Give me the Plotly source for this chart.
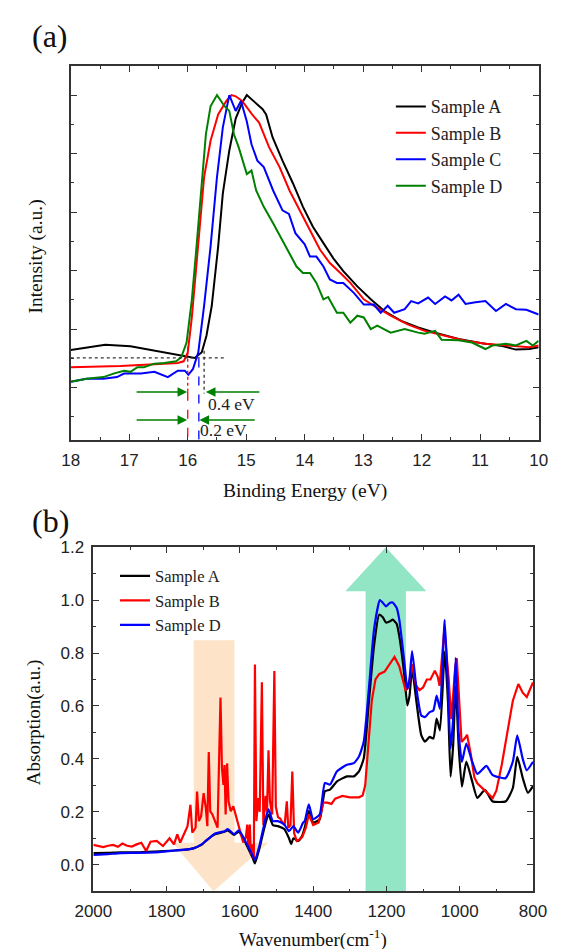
import plotly.graph_objects as go

# ---------------- Panel (a): UPS spectra ----------------
ups_A_x = [18.0, 17.41, 16.98, 16.46, 16.0, 15.88, 15.76, 15.68, 15.59, 15.48, 15.40, 15.29, 15.18, 15.07, 14.99,
           14.84, 14.72, 14.66, 14.55, 14.38, 14.20, 14.03, 13.86, 13.68, 13.51, 13.34, 13.10, 12.87, 12.64, 12.35,
           12.06, 11.77, 11.37, 10.97, 10.62, 10.39, 10.16, 10.0]
ups_A_y = [1.644, 1.734, 1.706, 1.616, 1.531, 1.508, 1.605, 1.887, 2.395, 3.41, 4.32, 5.05, 5.60, 5.87, 6.0,
           5.87, 5.76, 5.67, 5.28, 4.88, 4.49, 4.09, 3.75, 3.47, 3.21, 2.99, 2.73, 2.51, 2.31, 2.14,
           2.03, 1.94, 1.83, 1.76, 1.71, 1.65, 1.66, 1.69]

ups_B_x = [18.0, 17.15, 16.57, 16.17, 16.07, 16.0, 15.93, 15.83, 15.72, 15.61, 15.48, 15.34, 15.25, 15.18, 15.07,
           14.90, 14.78, 14.61, 14.43, 14.26, 14.09, 13.91, 13.74, 13.57, 13.39, 13.22, 12.99, 12.82, 12.53, 12.24,
           11.95, 11.60, 11.25, 10.91, 10.50, 10.16, 10.0]
ups_B_y = [1.35, 1.37, 1.40, 1.42, 1.45, 1.60, 2.20, 3.41, 4.60, 5.22, 5.67, 5.90, 6.0, 5.98, 5.90,
           5.67, 5.53, 5.11, 4.77, 4.37, 4.03, 3.69, 3.36, 3.13, 2.96, 2.79, 2.51, 2.40, 2.23, 2.08,
           1.97, 1.89, 1.80, 1.75, 1.72, 1.69, 1.72]

ups_C_x = [18.0, 17.73, 17.44, 17.21, 17.09, 16.80, 16.57, 16.34, 16.17, 16.05, 15.99, 15.91, 15.82, 15.72, 15.61,
           15.50, 15.40, 15.29, 15.18, 15.09, 14.99, 14.91, 14.81, 14.70, 14.54, 14.38, 14.27, 14.16, 14.0, 13.91,
           13.80, 13.68, 13.57, 13.45, 13.34, 13.16, 12.99, 12.82, 12.70, 12.58, 12.47, 12.29, 12.18, 12.06, 11.89,
           11.77, 11.60, 11.49, 11.37, 11.25, 11.08, 10.91, 10.73, 10.56, 10.39, 10.21, 10.0]
ups_C_y = [1.10, 1.15, 1.15, 1.18, 1.24, 1.24, 1.27, 1.18, 1.29, 1.29, 1.22, 1.32, 1.60, 2.40, 3.41,
           4.60, 5.45, 6.0, 5.73, 5.90, 5.55, 5.16, 4.88, 4.77, 4.37, 4.03, 3.97, 3.64, 3.45, 3.24,
           3.24, 3.07, 2.85, 2.79, 2.79, 2.62, 2.42, 2.42, 2.28, 2.40, 2.28, 2.34, 2.48, 2.44, 2.54,
           2.43, 2.56, 2.49, 2.59, 2.43, 2.46, 2.48, 2.31, 2.43, 2.34, 2.33, 2.25]

ups_D_x = [18.0, 17.73, 17.44, 17.27, 17.09, 16.98, 16.86, 16.75, 16.57, 16.40, 16.20, 16.11, 16.02, 15.93, 15.85,
           15.77, 15.69, 15.61, 15.50, 15.37, 15.29, 15.21, 15.13, 14.99, 14.91, 14.83, 14.70, 14.54, 14.35, 14.26,
           14.14, 14.03, 13.91, 13.80, 13.68, 13.60, 13.45, 13.34, 13.22, 13.10, 12.99, 12.87, 12.76, 12.53, 12.29,
           12.06, 11.95, 11.77, 11.66, 11.37, 11.14, 10.91, 10.79, 10.56, 10.39, 10.21, 10.10, 10.0]
ups_D_y = [1.10, 1.15, 1.18, 1.24, 1.29, 1.27, 1.35, 1.35, 1.41, 1.42, 1.45, 1.52, 1.77, 2.50, 3.41,
           4.43, 5.33, 5.81, 6.0, 5.81, 5.73, 5.33, 5.11, 4.65, 4.71, 4.37, 4.09, 3.81, 3.47, 3.30,
           3.07, 2.96, 2.96, 2.79, 2.51, 2.55, 2.28, 2.28, 2.11, 2.23, 2.20, 2.00, 2.06, 1.94, 2.00,
           1.94, 1.92, 1.97, 1.82, 1.81, 1.77, 1.66, 1.72, 1.75, 1.72, 1.80, 1.72, 1.80]

ups_names = ["Sample A", "Sample B", "Sample C", "Sample D"]
ups_colors = ["#000000", "#FF0000", "#0000FF", "#008000"]

# ---------------- Panel (b): FTIR spectra ----------------
ir_A_x = [2000, 1960, 1926, 1880, 1834, 1778, 1742, 1727, 1705, 1693, 1668, 1659, 1642, 1633, 1616, 1603, 1591,
          1578, 1565, 1559, 1548, 1535, 1522, 1510, 1496, 1479, 1466, 1460, 1454, 1441, 1430, 1423, 1412, 1400,
          1382, 1368, 1354, 1335, 1308, 1289, 1275, 1262, 1248, 1234, 1220, 1210, 1201, 1190, 1183, 1172, 1165,
          1151, 1143, 1137, 1130, 1118, 1105, 1095, 1082, 1072, 1063, 1054, 1041, 1032, 1025, 1018, 1011, 1003,
          994, 982, 966, 952, 931, 911, 874, 855, 843, 828, 814, 800]
ir_A_y = [0.044, 0.045, 0.047, 0.047, 0.050, 0.054, 0.058, 0.062, 0.075, 0.090, 0.115, 0.118, 0.125, 0.130, 0.113,
          0.125, 0.100, 0.063, 0.025, 0.005, 0.055, 0.130, 0.190, 0.150, 0.146, 0.135, 0.100, 0.078, 0.100, 0.090,
          0.110, 0.141, 0.203, 0.160, 0.172, 0.278, 0.284, 0.315, 0.334, 0.334, 0.353, 0.402, 0.614, 0.826, 0.945,
          0.935, 0.915, 0.920, 0.926, 0.910, 0.864, 0.714, 0.602, 0.639, 0.739, 0.614, 0.490, 0.465, 0.483, 0.477,
          0.552, 0.508, 0.805, 0.614, 0.333, 0.450, 0.675, 0.450, 0.295, 0.390, 0.315, 0.253, 0.283, 0.240, 0.240,
          0.290, 0.408, 0.328, 0.272, 0.297]

ir_B_x = [2000, 1985, 1973, 1960, 1946, 1933, 1921, 1908, 1895, 1882, 1869, 1856, 1844, 1827, 1810, 1792, 1780,
          1771, 1763, 1751, 1743, 1735, 1730, 1721, 1717, 1712, 1706, 1699, 1693, 1689, 1685, 1681, 1675, 1668,
          1661, 1653, 1649, 1645, 1642, 1639, 1635, 1631, 1625, 1618, 1612, 1606, 1599, 1591, 1584, 1580, 1577,
          1573, 1570, 1565, 1562, 1559, 1555, 1550, 1546, 1540, 1536, 1530, 1526, 1522, 1518, 1512, 1506, 1502,
          1496, 1490, 1484, 1478, 1472, 1468, 1462, 1457, 1452, 1445, 1438, 1430, 1420, 1412, 1400, 1385, 1372,
          1362, 1350, 1340, 1320, 1300, 1275, 1265, 1258, 1250, 1240, 1230, 1220, 1205, 1190, 1178, 1165, 1155,
          1148, 1140, 1130, 1120, 1110, 1100, 1090, 1080, 1068, 1060, 1055, 1042, 1030, 1023, 1012, 1008, 1000,
          995, 985, 980, 970, 960, 952, 935, 925, 910, 900, 885, 870, 855, 840, 828, 817, 808, 800]
ir_B_y = [0.075, 0.070, 0.067, 0.072, 0.075, 0.068, 0.080, 0.072, 0.069, 0.077, 0.083, 0.052, 0.087, 0.090, 0.071,
          0.100, 0.077, 0.115, 0.084, 0.121, 0.146, 0.227, 0.121, 0.140, 0.277, 0.165, 0.183, 0.271, 0.214, 0.146,
          0.426, 0.202, 0.190, 0.165, 0.140, 0.632, 0.364, 0.302, 0.377, 0.190, 0.383, 0.239, 0.202, 0.221, 0.190,
          0.158, 0.121, 0.084, 0.102, 0.152, 0.065, 0.152, 0.040, 0.077, 0.021, 0.757, 0.165, 0.252, 0.200, 0.690,
          0.150, 0.260, 0.200, 0.433, 0.240, 0.190, 0.732, 0.220, 0.180, 0.175, 0.160, 0.150, 0.240, 0.140, 0.150,
          0.352, 0.120, 0.090, 0.095, 0.105, 0.140, 0.190, 0.150, 0.160, 0.235, 0.235, 0.230, 0.250, 0.260, 0.255,
          0.255, 0.262, 0.300, 0.450, 0.620, 0.700, 0.720, 0.730, 0.760, 0.785, 0.750, 0.690, 0.660, 0.670, 0.758,
          0.680, 0.660, 0.670, 0.700, 0.700, 0.733, 0.710, 0.676, 0.890, 0.700, 0.550, 0.750, 0.780, 0.600, 0.464,
          0.480, 0.491, 0.420, 0.330, 0.308, 0.285, 0.270, 0.252, 0.280, 0.380, 0.500, 0.620, 0.683, 0.650, 0.634,
          0.660, 0.689]

ir_D_x = [2000, 1960, 1926, 1880, 1834, 1778, 1742, 1727, 1705, 1693, 1668, 1642, 1633, 1616, 1603, 1591, 1578,
          1565, 1559, 1548, 1535, 1522, 1510, 1496, 1479, 1466, 1454, 1441, 1428, 1423, 1412, 1400, 1382, 1368,
          1354, 1335, 1308, 1289, 1275, 1262, 1248, 1234, 1218, 1210, 1201, 1190, 1183, 1172, 1165, 1151, 1143,
          1137, 1130, 1118, 1105, 1095, 1082, 1072, 1063, 1054, 1041, 1032, 1025, 1018, 1011, 1003, 994, 982, 966,
          952, 927, 911, 875, 855, 843, 828, 817, 800]
ir_D_y = [0.037, 0.040, 0.044, 0.045, 0.047, 0.054, 0.058, 0.062, 0.077, 0.090, 0.118, 0.127, 0.135, 0.116, 0.130,
          0.105, 0.070, 0.035, 0.018, 0.065, 0.145, 0.209, 0.165, 0.165, 0.152, 0.127, 0.146, 0.121, 0.158, 0.165,
          0.228, 0.172, 0.191, 0.309, 0.303, 0.353, 0.378, 0.384, 0.409, 0.465, 0.664, 0.888, 1.000, 0.990, 0.976,
          0.990, 0.991, 0.970, 0.926, 0.764, 0.664, 0.702, 0.807, 0.664, 0.564, 0.558, 0.577, 0.583, 0.639, 0.589,
          0.925, 0.664, 0.439, 0.550, 0.782, 0.500, 0.389, 0.458, 0.390, 0.343, 0.374, 0.340, 0.327, 0.390, 0.489,
          0.400, 0.357, 0.389]

ir_names = ["Sample A", "Sample B", "Sample D"]
ir_colors = ["#000000", "#FF0000", "#0000FF"]

# decorative arrows in panel (b), in data units (wavenumber, absorption)
green_arrow = [(1257, -0.1), (1257, 1.033), (1312, 1.033), (1202, 1.2), (1091, 1.033), (1147, 1.033), (1147, -0.1)]
peach_arrow = [(1726, 0.848), (1615, 0.848), (1615, 0.083), (1522, 0.083), (1672, -0.1), (1784, 0.083), (1726, 0.083)]

SERIF = "Liberation Serif, Times New Roman, serif"
SANS = "Liberation Sans, Arial, sans-serif"

fig = go.Figure()

for xs, ys, nm, col in zip([ups_A_x, ups_B_x, ups_C_x, ups_D_x], [ups_A_y, ups_B_y, ups_C_y, ups_D_y],
                           ups_names, ups_colors):
    fig.add_trace(go.Scatter(x=xs, y=ys, name=nm, mode="lines", line=dict(color=col, width=2),
                             xaxis="x", yaxis="y", legend="legend"))

for xs, ys, nm, col in zip([ir_A_x, ir_B_x, ir_D_x], [ir_A_y, ir_B_y, ir_D_y], ir_names, ir_colors):
    shape = "linear" if nm == "Sample B" else "spline"
    fig.add_trace(go.Scatter(x=xs, y=ys, name=nm, mode="lines",
                             line=dict(color=col, width=2.2, shape=shape, smoothing=0.5),
                             xaxis="x2", yaxis="y2", legend="legend2"))

# reference lines in panel (a)
def seg(x0, y0, x1, y1, color, dash, width=1.3):
    fig.add_shape(type="line", xref="x", yref="y", x0=x0, y0=y0, x1=x1, y1=y1,
                  line=dict(color=color, dash=dash, width=width))

seg(18.0, 1.51, 15.37, 1.51, "#333333", "dot")
seg(16.0, 1.70, 16.0, 0.93, "#FF0000", "dot")
seg(16.0, 0.93, 16.0, 0.107, "#FF0000", "dash")
seg(15.81, 1.50, 15.81, 0.107, "#0000FF", "dash")
seg(15.72, 1.63, 15.72, 0.90, "#333333", "dot")

def arrow(x_head, x_tail, yv):
    fig.add_annotation(xref="x", yref="y", axref="x", ayref="y", x=x_head, y=yv, ax=x_tail, ay=yv,
                       text="", showarrow=True, arrowhead=2, arrowsize=1.2, arrowwidth=1.6,
                       arrowcolor="#008000")

arrow(16.01, 16.90, 0.925)
arrow(15.69, 14.75, 0.925)
arrow(16.01, 16.90, 0.446)
arrow(15.80, 14.83, 0.446)

fig.add_annotation(xref="x", yref="y", x=15.26, y=0.72, text="0.4 eV", showarrow=False,
                   font=dict(family=SERIF, size=17.5, color="#222"))
fig.add_annotation(xref="x", yref="y", x=15.39, y=0.27, text="0.2 eV", showarrow=False,
                   font=dict(family=SERIF, size=17.5, color="#222"))

def poly(pts):
    return "M " + " L ".join(f"{x},{y}" for x, y in pts) + " Z"

fig.add_shape(type="path", xref="x2", yref="y2", path=poly(peach_arrow),
              fillcolor="#FDE4C8", line=dict(width=0), layer="below")
fig.add_shape(type="path", xref="x2", yref="y2", path=poly(green_arrow),
              fillcolor="#93E6C5", line=dict(width=0), layer="below")

# panel labels and axis titles
def label(text, x, y, size, angle=0):
    fig.add_annotation(xref="paper", yref="paper", x=x / 563, y=1 - y / 949, text=text, showarrow=False,
                       textangle=angle, xanchor="center", yanchor="middle",
                       font=dict(family=SERIF, size=size, color="#111"))

label("(a)", 33, 27, 32)
label("(b)", 33, 517, 32)
label("Binding Energy (eV)", 303.5, 487, 19.5)
label("Intensity (a.u.)", 18, 250, 19.5, -90)
label("Absorption(a.u.)", 16, 720, 19, -90)
label("Wavenumber(cm<sup>-1</sup>)", 312, 938, 19)

axis_common = dict(showgrid=False, zeroline=False, showline=True, linecolor="#333333", linewidth=1.5,
                   mirror="allticks", ticks="inside", ticklen=6, tickwidth=1.3, tickcolor="#333333",
                   tickfont=dict(family=SANS, size=17, color="#222"))

fig.update_layout(
    width=563, height=949, autosize=False,
    margin=dict(l=0, r=0, t=0, b=0),
    paper_bgcolor="white", plot_bgcolor="white",
    xaxis=dict(domain=[55 / 563, 552 / 563], anchor="y", range=[18, 10], tick0=10, dtick=1,
               minor=dict(dtick=0.5, ticks="inside", ticklen=3, tickcolor="#333333", tickwidth=1.3),
               ticklabelstandoff=4, **axis_common),
    yaxis=dict(domain=[1 - 435 / 949, 1 - 58 / 949], anchor="x", range=[0.107, 6.49], tick0=0, dtick=1,
               showticklabels=False,
               minor=dict(dtick=0.5, ticks="inside", ticklen=3, tickcolor="#333333", tickwidth=1.3),
               **axis_common),
    xaxis2=dict(domain=[79 / 563, 546 / 563], anchor="y2", range=[2000, 800], tick0=0, dtick=200,
                minor=dict(dtick=100, ticks="inside", ticklen=3, tickcolor="#333333", tickwidth=1.3),
                ticklabelstandoff=4, **axis_common),
    yaxis2=dict(domain=[1 - 890.7 / 949, 1 - 543.3 / 949], anchor="x2", range=[-0.1, 1.2], tick0=0, dtick=0.2,
                tickformat=".1f",
                minor=dict(dtick=0.1, ticks="inside", ticklen=3, tickcolor="#333333", tickwidth=1.3),
                ticklabelstandoff=4, **axis_common),
    legend=dict(x=395 / 563, y=1 - 80 / 949, xanchor="left", yanchor="top", bgcolor="rgba(0,0,0,0)",
                font=dict(family=SERIF, size=18, color="#222"), tracegroupgap=0),
    legend2=dict(x=102 / 563, y=1 - 555 / 949, xanchor="left", yanchor="top", bgcolor="rgba(0,0,0,0)",
                 font=dict(family=SERIF, size=16.5, color="#222"), tracegroupgap=0),
    showlegend=True,
)

fig.write_html("out.html", config={"displayModeBar": False},
               post_script="document.body.style.margin='0';")
